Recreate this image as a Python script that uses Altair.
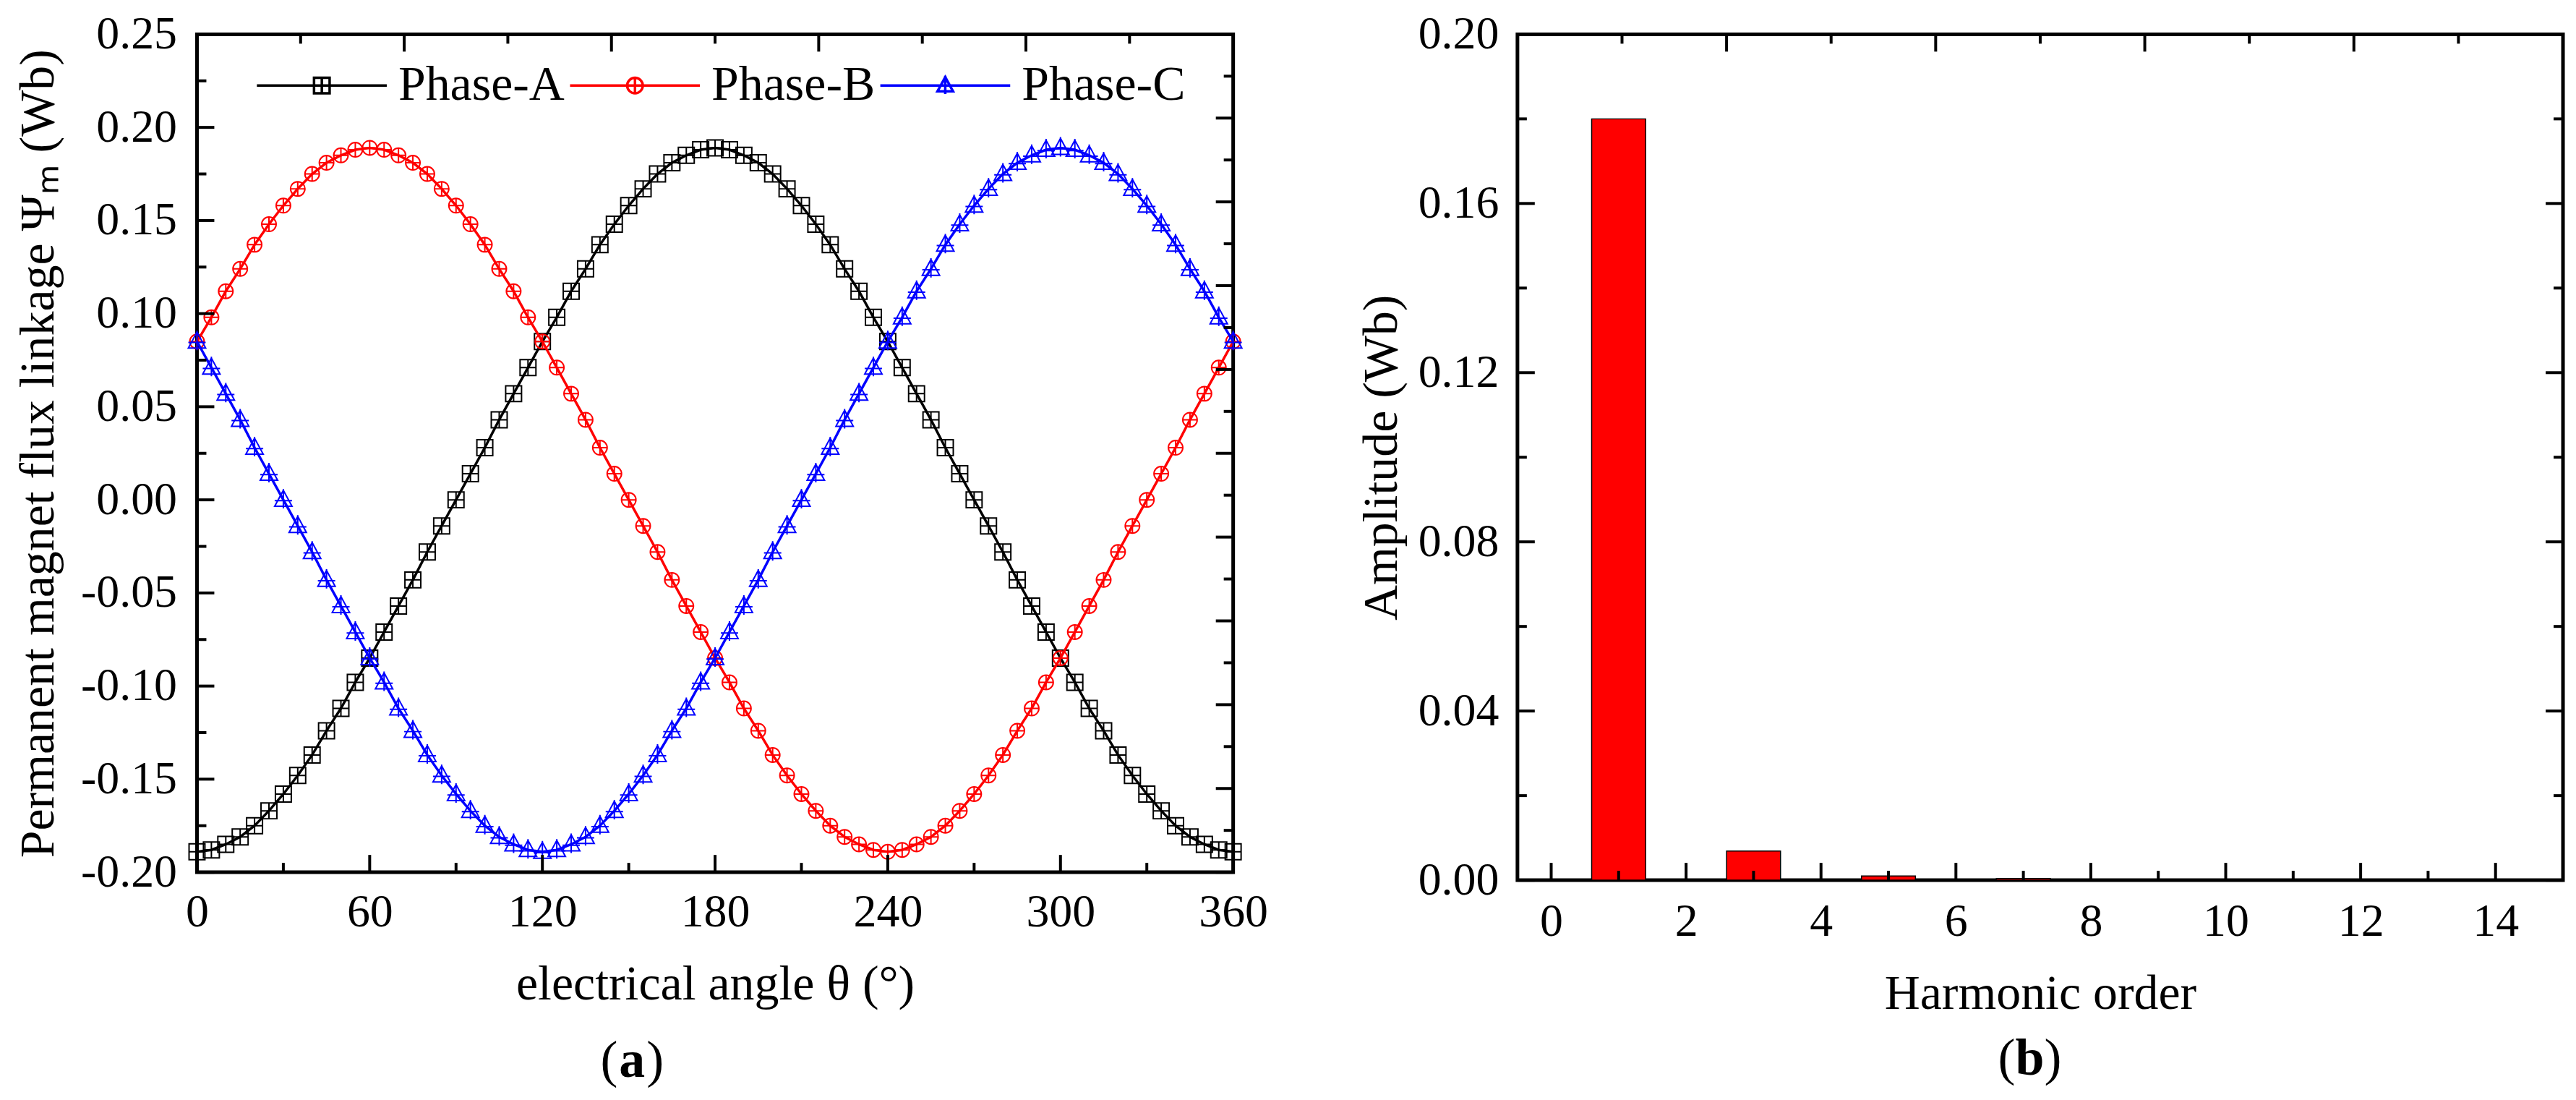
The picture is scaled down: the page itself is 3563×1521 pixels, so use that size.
import altair as alt
import pandas as pd

# ---------------- data ----------------
angle_deg = [0, 5, 10, 15, 20, 25, 30, 35, 40, 45, 50, 55,
             60, 65, 70, 75, 80, 85, 90, 95, 100, 105, 110, 115,
             120, 125, 130, 135, 140, 145, 150, 155, 160, 165, 170, 175,
             180, 185, 190, 195, 200, 205, 210, 215, 220, 225, 230, 235,
             240, 245, 250, 255, 260, 265, 270, 275, 280, 285, 290, 295,
             300, 305, 310, 315, 320, 325, 330, 335, 340, 345, 350, 355,
             360]

phase_a = [-0.189, -0.188, -0.185, -0.181, -0.175, -0.167, -0.158, -0.148, -0.137, -0.124, -0.112, -0.098,
           -0.085, -0.071, -0.057, -0.043, -0.028, -0.014, 0.000, 0.014, 0.028, 0.043, 0.057, 0.071,
           0.085, 0.098, 0.112, 0.124, 0.137, 0.148, 0.158, 0.167, 0.175, 0.181, 0.185, 0.188,
           0.189, 0.188, 0.185, 0.181, 0.175, 0.167, 0.158, 0.148, 0.137, 0.124, 0.112, 0.098,
           0.085, 0.071, 0.057, 0.043, 0.028, 0.014, 0.000, -0.014, -0.028, -0.043, -0.057, -0.071,
           -0.085, -0.098, -0.112, -0.124, -0.137, -0.148, -0.158, -0.167, -0.175, -0.181, -0.185, -0.188,
           -0.189]

phase_b = [0.085, 0.098, 0.112, 0.124, 0.137, 0.148, 0.158, 0.167, 0.175, 0.181, 0.185, 0.188,
           0.189, 0.188, 0.185, 0.181, 0.175, 0.167, 0.158, 0.148, 0.137, 0.124, 0.112, 0.098,
           0.085, 0.071, 0.057, 0.043, 0.028, 0.014, 0.000, -0.014, -0.028, -0.043, -0.057, -0.071,
           -0.085, -0.098, -0.112, -0.124, -0.137, -0.148, -0.158, -0.167, -0.175, -0.181, -0.185, -0.188,
           -0.189, -0.188, -0.185, -0.181, -0.175, -0.167, -0.158, -0.148, -0.137, -0.124, -0.112, -0.098,
           -0.085, -0.071, -0.057, -0.043, -0.028, -0.014, 0.000, 0.014, 0.028, 0.043, 0.057, 0.071,
           0.085]

phase_c = [0.085, 0.071, 0.057, 0.043, 0.028, 0.014, 0.000, -0.014, -0.028, -0.043, -0.057, -0.071,
           -0.085, -0.098, -0.112, -0.124, -0.137, -0.148, -0.158, -0.167, -0.175, -0.181, -0.185, -0.188,
           -0.189, -0.188, -0.185, -0.181, -0.175, -0.167, -0.158, -0.148, -0.137, -0.124, -0.112, -0.098,
           -0.085, -0.071, -0.057, -0.043, -0.028, -0.014, 0.000, 0.014, 0.028, 0.043, 0.057, 0.071,
           0.085, 0.098, 0.112, 0.124, 0.137, 0.148, 0.158, 0.167, 0.175, 0.181, 0.185, 0.188,
           0.189, 0.188, 0.185, 0.181, 0.175, 0.167, 0.158, 0.148, 0.137, 0.124, 0.112, 0.098,
           0.085]

phase_names = ["Phase-A", "Phase-B", "Phase-C"]
phase_colors = ["#000000", "#FF0000", "#0000FF"]

harmonic_order = [1, 3, 5, 7]
harmonic_amp = [0.180, 0.0069, 0.0010, 0.0004]

# axis tick values
a_x_labels = [0, 60, 120, 180, 240, 300, 360]
a_x_minor = [30, 90, 150, 210, 270, 330]
a_top_major = [72, 144, 216, 288]
a_top_minor = [36, 108, 180, 252, 324]
a_y_labels = [-0.20, -0.15, -0.10, -0.05, 0.00, 0.05, 0.10, 0.15, 0.20, 0.25]
a_y_minor = [-0.175, -0.125, -0.075, -0.025, 0.025, 0.075, 0.125, 0.175, 0.225]
a_right_major = [-0.2, -0.155, -0.11, -0.065, -0.02, 0.025, 0.07, 0.115, 0.16, 0.205, 0.25]
a_right_minor = [-0.1775, -0.1325, -0.0875, -0.0425, 0.0025, 0.0475, 0.0925, 0.1375, 0.1825, 0.2275]

b_x_labels = [0, 2, 4, 6, 8, 10, 12, 14]
b_x_minor = [1, 3, 5, 7, 9, 11, 13]
b_top_major = [2.6, 5.7, 8.8, 11.9]
b_top_minor = [1.05, 4.15, 7.25, 10.35, 13.45]
b_y_labels = [0.00, 0.04, 0.08, 0.12, 0.16, 0.20]
b_y_minor = [0.02, 0.06, 0.10, 0.14, 0.18]

# ---------------- styling ----------------
FONT = "Liberation Serif"
W_A, H_A = 1436, 1161
W_B, H_B = 1449, 1172
MAJ, MIN = 24, 13

marker_paths = [
    "M-1,-1L1,-1L1,1L-1,1Z M-1,0L1,0 M0,-1L0,1",
    "M-1,0A1,1,0,1,0,1,0A1,1,0,1,0,-1,0Z M-1,0L1,0 M0,-1L0,1",
    "M0,-1.1L1,0.75L-1,0.75Z M-1,0.1L1,0.1 M0,-1.25L0,1",
]
marker_sizes = [484, 400, 576]
legend_paths = [
    "M-1,0L1,0 M-0.12,-0.12L0.12,-0.12L0.12,0.12L-0.12,0.12Z M0,-0.12L0,0.12",
    "M-1,0L1,0 M-0.12,0A0.12,0.12,0,1,0,0.12,0A0.12,0.12,0,1,0,-0.12,0Z M0,-0.13L0,0.13",
    "M-1,0L1,0 M0,-0.13L0.12,0.09L-0.12,0.09Z M0,-0.15L0,0.13",
]

flux_df = pd.DataFrame({
    "angle": angle_deg * 3,
    "flux": phase_a + phase_b + phase_c,
    "phase": [phase_names[0]] * len(phase_a) + [phase_names[1]] * len(phase_b) + [phase_names[2]] * len(phase_c),
})
harm_df = pd.DataFrame({"order": harmonic_order, "amp": harmonic_amp})

axis_common = dict(
    labelFont=FONT, labelFontSize=64, labelColor="black",
    titleFont=FONT, titleFontSize=68, titleColor="black", titleFontWeight="normal",
    ticks=False, domain=False, grid=False, labelOverlap=False, labelFlush=False,
)

# ---------------- panel (a) ----------------
xa = alt.Scale(domain=[0, 360], nice=False, zero=False)
ya = alt.Scale(domain=[-0.20, 0.25], nice=False, zero=False)
x_axis_a = alt.Axis(values=a_x_labels, format="d", title="electrical angle θ (°)",
                    labelPadding=24, titlePadding=34, **axis_common)
y_axis_a = alt.Axis(values=a_y_labels, title="Permanent magnet flux linkage Ψₘ (Wb)",
                    labelExpr="datum.value < 0 ? '-' + format(-datum.value, '.2f') : format(datum.value, '.2f')",
                    labelPadding=28, titlePadding=24, **axis_common)

# ---------------- panel (b) ----------------
xb = alt.Scale(domain=[-0.5, 15], nice=False, zero=False)
yb = alt.Scale(domain=[0, 0.20], nice=False, zero=False)
x_axis_b = alt.Axis(values=b_x_labels, format="d", title="Harmonic order",
                    labelPadding=26, titlePadding=34, **axis_common)
y_axis_b = alt.Axis(values=b_y_labels, format=".2f", title="Amplitude (Wb)",
                    labelPadding=26, titlePadding=16, **axis_common)


def xticks(vals, scale, axis, y_from, y_to):
    return alt.Chart(pd.DataFrame({"v": vals})).mark_rule(color="black", strokeWidth=4).encode(
        x=alt.X("v:Q", scale=scale, axis=axis),
        y=alt.value(y_from), y2=alt.value(y_to))


def yticks(vals, scale, axis, x_from, x_to):
    return alt.Chart(pd.DataFrame({"v": vals})).mark_rule(color="black", strokeWidth=4).encode(
        y=alt.Y("v:Q", scale=scale, axis=axis),
        x=alt.value(x_from), x2=alt.value(x_to))


def text_piece(txt, x, y, bold=False):
    return alt.Chart(pd.DataFrame({"t": [txt]})).mark_text(
        font=FONT, fontSize=72, fontWeight="bold" if bold else "normal",
        color="black", align="center", baseline="middle").encode(
        text="t:N", x=alt.value(x), y=alt.value(y))


layers_a = []
for i, name in enumerate(phase_names):
    base = alt.Chart(flux_df).transform_filter(alt.datum.phase == name)
    layers_a.append(base.mark_line(color=phase_colors[i], strokeWidth=3.5).encode(
        x=alt.X("angle:Q", scale=xa, axis=x_axis_a),
        y=alt.Y("flux:Q", scale=ya, axis=y_axis_a)))
    layers_a.append(base.mark_point(shape=marker_paths[i], filled=False, color=phase_colors[i],
                                    size=marker_sizes[i], strokeWidth=2, opacity=1).encode(
        x=alt.X("angle:Q", scale=xa, axis=x_axis_a),
        y=alt.Y("flux:Q", scale=ya, axis=y_axis_a)))

legend_def = alt.Legend(orient="none", legendX=81, legendY=-21, direction="horizontal", title=None,
                        labelFont=FONT, labelFontSize=68, labelColor="black", labelLimit=2000,
                        symbolSize=32400, symbolStrokeWidth=3.5, symbolOpacity=1,
                        labelOffset=14, columnPadding=0, padding=0)
legend_layer = alt.Chart(flux_df).transform_filter("false").mark_point(filled=False, opacity=1).encode(
    x=alt.X("angle:Q", scale=xa, axis=x_axis_a),
    y=alt.Y("flux:Q", scale=ya, axis=y_axis_a),
    color=alt.Color("phase:N", scale=alt.Scale(domain=phase_names, range=phase_colors), legend=legend_def),
    shape=alt.Shape("phase:N", scale=alt.Scale(domain=phase_names, range=legend_paths), legend=legend_def),
)

ticks_a = [
    xticks(a_x_labels, xa, x_axis_a, H_A, H_A - MAJ), xticks(a_x_minor, xa, x_axis_a, H_A, H_A - MIN),
    xticks(a_top_major, xa, x_axis_a, 0, MAJ), xticks(a_top_minor, xa, x_axis_a, 0, MIN),
    yticks(a_y_labels, ya, y_axis_a, 0, MAJ), yticks(a_y_minor, ya, y_axis_a, 0, MIN),
    yticks(a_right_major, ya, y_axis_a, W_A, W_A - MAJ), yticks(a_right_minor, ya, y_axis_a, W_A, W_A - MIN),
]
caption_a = [text_piece("(", 571, 1422), text_piece("a", 603, 1422, bold=True), text_piece(")", 635, 1422)]

chart_a = alt.layer(*layers_a, *ticks_a, legend_layer, *caption_a).properties(width=W_A, height=H_A)

bars = alt.Chart(harm_df).transform_calculate(
    x0="datum.order - 0.4", x1="datum.order + 0.4"
).mark_rect(color="#FF0000", stroke="black", strokeWidth=1.5).encode(
    x=alt.X("x0:Q", scale=xb, axis=x_axis_b),
    x2="x1:Q",
    y=alt.Y("amp:Q", scale=yb, axis=y_axis_b),
    y2=alt.datum(0.0),
)

ticks_b = [
    xticks(b_x_labels, xb, x_axis_b, H_B, H_B - MAJ), xticks(b_x_minor, xb, x_axis_b, H_B, H_B - MIN),
    xticks(b_top_major, xb, x_axis_b, 0, MAJ), xticks(b_top_minor, xb, x_axis_b, 0, MIN),
    yticks(b_y_labels, yb, y_axis_b, 0, MAJ), yticks(b_y_minor, yb, y_axis_b, 0, MIN),
    yticks(b_y_labels, yb, y_axis_b, W_B, W_B - MAJ), yticks(b_y_minor, yb, y_axis_b, W_B, W_B - MIN),
]
caption_b = [text_piece("(", 678, 1419), text_piece("b", 710, 1419, bold=True), text_piece(")", 742, 1419)]

chart_b = alt.layer(bars, *ticks_b, *caption_b).properties(width=W_B, height=H_B)

chart = alt.hconcat(chart_a, chart_b, spacing=118).properties(
    padding={"left": 9, "top": 3, "right": 5, "bottom": 5},
    background="white",
).configure(font=FONT).configure_view(stroke="black", strokeWidth=5)

chart.save("out.html", embed_options={"renderer": "svg", "actions": False})
